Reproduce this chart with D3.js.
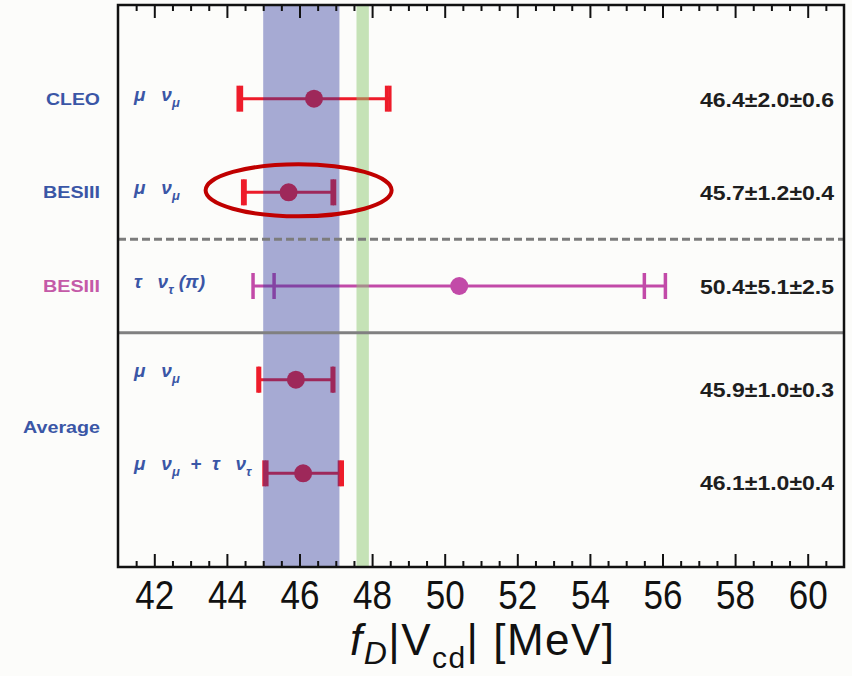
<!DOCTYPE html>
<html>
<head>
<meta charset="utf-8">
<script src="https://cdn.jsdelivr.net/npm/d3@7"></script>
<style>
  body { margin: 0; background: #fcfcfa; }
  svg { display: block; }
</style>
</head>
<body>
<div id="chart"></div>
<script>
// measurements of f_D|V_cd| (MeV)
const experiments = ["CLEO", "BESIII", "BESIII", "Average"];
const channels = ["μ   ν_μ", "μ   ν_μ", "τ   ν_τ (π)", "μ   ν_μ", "μ   ν_μ  +  τ   ν_τ"];
const centralValues = [46.4, 45.7, 50.4, 45.9, 46.1];
const statErrors = [2.0, 1.2, 5.1, 1.0, 1.0];
const systErrors = [0.6, 0.4, 2.5, 0.3, 0.4];
const rowColors = ["red", "red", "magenta", "red", "red"];
const blueBand = [45.0, 47.1];
const greenBand = [47.57, 47.91];
const majorTicks = [42, 44, 46, 48, 50, 52, 54, 56, 58, 60];

const width = 852, height = 676;
const frame = { left: 118, right: 844, top: 5, bottom: 567 };

const colors = {
    red: "#ee1c2a",
    magenta: "#c24aa8",
    labelBlue: "#3a56a6",
    labelMagenta: "#c45aa8",
    blueBand: "#30399d",
    greenBand: "#8ec872"
};

const svg = d3.select("#chart").append("svg").attr("width", width).attr("height", height);

const x = d3.scaleLinear().domain([41, 61]).range([frame.left, frame.right]);
// rows indexed 0..4 from top
const y = d3.scaleLinear().domain([-1, 5]).range([frame.top, frame.bottom]);

const rows = centralValues.map((c, i) => ({
    i: i,
    c: c,
    stat: statErrors[i],
    syst: systErrors[i],
    total: Math.sqrt(statErrors[i] ** 2 + systErrors[i] ** 2),
    color: colors[rowColors[i]],
    channel: channels[i]
}));

// error bars
const bars = svg.append("g").selectAll("g").data(rows).join("g")
    .attr("transform", d => `translate(0,${y(d.i)})`);

bars.append("line")
    .attr("x1", d => x(d.c - d.total)).attr("x2", d => x(d.c + d.total))
    .attr("stroke", d => d.color).attr("stroke-width", 3);

[d => d.c - d.total, d => d.c + d.total, d => d.c - d.stat, d => d.c + d.stat].forEach(f => {
    bars.append("line")
        .attr("x1", d => x(f(d))).attr("x2", d => x(f(d)))
        .attr("y1", -13).attr("y2", 13)
        .attr("stroke", d => d.color).attr("stroke-width", 3.5);
});

bars.append("circle")
    .attr("cx", d => x(d.c)).attr("r", 9)
    .attr("fill", d => d.color);

// bands drawn over the bars, semi-transparent
svg.append("rect")
    .attr("x", x(blueBand[0])).attr("width", x(blueBand[1]) - x(blueBand[0]))
    .attr("y", frame.top).attr("height", frame.bottom - frame.top)
    .attr("fill", colors.blueBand).attr("opacity", 0.42);
svg.append("rect")
    .attr("x", x(greenBand[0])).attr("width", x(greenBand[1]) - x(greenBand[0]))
    .attr("y", frame.top).attr("height", frame.bottom - frame.top)
    .attr("fill", colors.greenBand).attr("opacity", 0.5);

// separators
svg.append("line")
    .attr("x1", frame.left).attr("x2", frame.right)
    .attr("y1", y(1.5)).attr("y2", y(1.5))
    .attr("stroke", "#7c7c7c").attr("stroke-width", 3).attr("stroke-dasharray", "8,4");
svg.append("line")
    .attr("x1", frame.left).attr("x2", frame.right)
    .attr("y1", y(2.5)).attr("y2", y(2.5))
    .attr("stroke", "#808080").attr("stroke-width", 3);

// ellipse around BESIII mu nu
svg.append("ellipse")
    .attr("cx", x(45.7) + 10).attr("cy", y(1) - 2)
    .attr("rx", 93).attr("ry", 26)
    .attr("fill", "none").attr("stroke", "#c00000").attr("stroke-width", 4);

// axes
const minorTicks = d3.range(41.5, 61, 0.5).filter(v => !majorTicks.includes(v));

const bottomMajor = svg.append("g").attr("transform", `translate(0,${frame.bottom})`)
    .call(d3.axisBottom(x).tickValues(majorTicks).tickSize(-13).tickPadding(14).tickFormat(d3.format("d")));
svg.append("g").attr("transform", `translate(0,${frame.bottom})`)
    .call(d3.axisBottom(x).tickValues(minorTicks).tickSize(-6).tickFormat(""));
svg.append("g").attr("transform", `translate(0,${frame.top})`)
    .call(d3.axisTop(x).tickValues(majorTicks).tickSize(-13).tickFormat(""));
svg.append("g").attr("transform", `translate(0,${frame.top})`)
    .call(d3.axisTop(x).tickValues(minorTicks).tickSize(-6).tickFormat(""));

svg.selectAll(".domain").remove();
svg.selectAll(".tick line").attr("stroke", "#111").attr("stroke-width", 2);
bottomMajor.selectAll(".tick text")
    .attr("font-family", "Liberation Sans, Arial, sans-serif")
    .attr("font-size", 40).attr("fill", "#111")
    .attr("textLength", 39).attr("lengthAdjust", "spacingAndGlyphs");

svg.append("rect")
    .attr("x", frame.left).attr("y", frame.top)
    .attr("width", frame.right - frame.left).attr("height", frame.bottom - frame.top)
    .attr("fill", "none").attr("stroke", "#111").attr("stroke-width", 2.5);

// axis title
const title = svg.append("text")
    .attr("x", 350).attr("y", 655)
    .attr("font-family", "Liberation Sans, Arial, sans-serif")
    .attr("font-size", 44).attr("fill", "#111")
    .attr("textLength", 264).attr("lengthAdjust", "spacing");
title.append("tspan").attr("font-style", "italic").text("f");
title.append("tspan").attr("font-style", "italic").attr("font-size", 32).attr("dy", 9).text("D");
title.append("tspan").attr("dy", -9).text("|V");
title.append("tspan").attr("font-size", 30).attr("dy", 13).text("cd");
title.append("tspan").attr("dy", -13).text("| [MeV]");

// experiment labels
const labelFont = "Liberation Sans, Arial, sans-serif";
const expRows = [0, 1, 2, 3.5];
const expColors = [colors.labelBlue, colors.labelBlue, colors.labelMagenta, colors.labelBlue];
const expWidths = [54, 57, 57, 77];
svg.append("g").selectAll("text").data(experiments).join("text")
    .attr("x", 100).attr("y", (d, i) => y(expRows[i]) + 6)
    .attr("text-anchor", "end")
    .attr("font-family", labelFont).attr("font-weight", "bold").attr("font-size", 17)
    .attr("fill", (d, i) => expColors[i])
    .attr("textLength", (d, i) => expWidths[i]).attr("lengthAdjust", "spacingAndGlyphs")
    .text(d => d);

// channel labels with subscripts
const chan = svg.append("g").selectAll("text").data(rows).join("text")
    .attr("x", 134).attr("y", d => y(d.i) + (d.i >= 3 ? -3 : 2))
    .attr("font-family", labelFont).attr("font-weight", "bold").attr("font-style", "italic")
    .attr("font-size", 19).attr("fill", colors.labelBlue);
chan.each(function (d) {
    const t = d3.select(this);
    const parts = d.channel.split(/_(.)/);
    parts.forEach((p, k) => {
        if (k % 2 === 1) {
            t.append("tspan").attr("font-size", 13).attr("dy", 6).text(p);
        } else if (p.length) {
            t.append("tspan").attr("dy", k > 0 ? -6 : 0).text(p.replace(/ /g, "\u00a0"));
        }
    });
});

// value labels
svg.append("g").selectAll("text").data(rows).join("text")
    .attr("x", 834).attr("y", d => y(d.i) + (d.i >= 3 ? 17 : 8))
    .attr("text-anchor", "end")
    .attr("font-family", labelFont).attr("font-weight", "bold").attr("font-size", 20)
    .attr("fill", "#1e1e1e")
    .attr("textLength", 134).attr("lengthAdjust", "spacingAndGlyphs")
    .text(d => `${d.c.toFixed(1)}±${d.stat.toFixed(1)}±${d.syst.toFixed(1)}`);
</script>
</body>
</html>
